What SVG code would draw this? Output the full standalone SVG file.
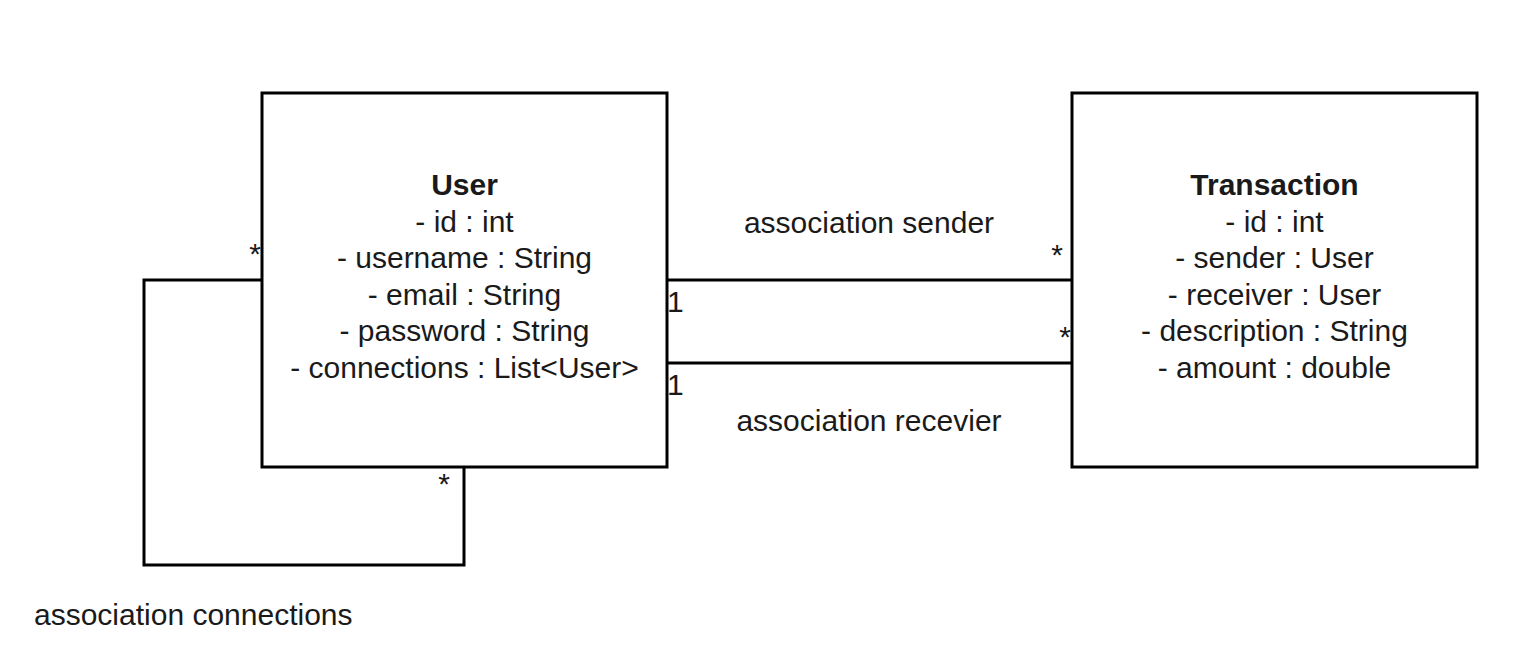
<svg xmlns="http://www.w3.org/2000/svg" width="1528" height="671" viewBox="0 0 1528 671">
<style>
text{font-family:"Liberation Sans",Arial,sans-serif;fill:#1a1a1a;}
.box{fill:#fff;stroke:#000;stroke-width:3;}
.edge{fill:none;stroke:#000;stroke-width:3;}
.t{font-size:30px;text-anchor:middle;}
.title{font-weight:bold;}
.lbl{font-size:30px;}
.m{font-size:30px;}
</style>
<rect width="1528" height="671" fill="#fff"/>
<g id="connectors">
<polyline class="edge" points="262,280 144,280 144,565 464,565 464,467"/>
<line class="edge" x1="667" y1="280" x2="1072" y2="280"/>
<line class="edge" x1="667" y1="363" x2="1072" y2="363"/>
<text class="m" x="255" y="264" text-anchor="middle">*</text>
<text class="m" x="444" y="494" text-anchor="middle">*</text>
<text class="m" x="667" y="312">1</text>
<text class="m" x="667" y="395">1</text>
<text class="m" x="1057" y="265" text-anchor="middle">*</text>
<text class="m" x="1065" y="347" text-anchor="middle">*</text>
<text class="lbl" x="869" y="233" text-anchor="middle">association sender</text>
<text class="lbl" x="869" y="431" text-anchor="middle">association recevier</text>
<text class="lbl" x="34" y="625">association connections</text>
</g>
<g id="user">
<rect class="box" x="262" y="93" width="405" height="374"/>
<text class="t title" x="464.5" y="195">User</text>
<text class="t" x="464.5" y="231.5">- id : int</text>
<text class="t" x="464.5" y="268">- username : String</text>
<text class="t" x="464.5" y="304.5">- email : String</text>
<text class="t" x="464.5" y="341">- password : String</text>
<text class="t" x="464.5" y="377.5">- connections : List&lt;User&gt;</text>
</g>
<g id="transaction">
<rect class="box" x="1072" y="93" width="405" height="374"/>
<text class="t title" x="1274.5" y="195">Transaction</text>
<text class="t" x="1274.5" y="231.5">- id : int</text>
<text class="t" x="1274.5" y="268">- sender : User</text>
<text class="t" x="1274.5" y="304.5">- receiver : User</text>
<text class="t" x="1274.5" y="341">- description : String</text>
<text class="t" x="1274.5" y="377.5">- amount : double</text>
</g>
</svg>
